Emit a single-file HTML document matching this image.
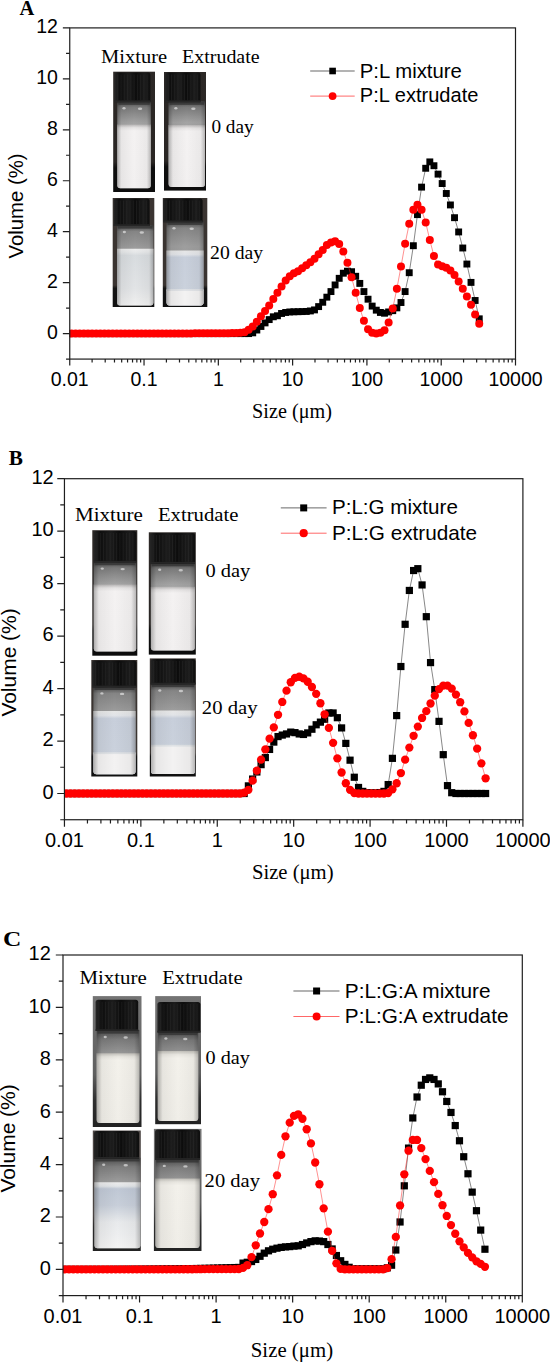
<!DOCTYPE html>
<html><head><meta charset="utf-8"><title>Particle size distribution</title>
<style>html,body{margin:0;padding:0;background:#fff;font-family:"Liberation Sans",sans-serif;}svg{display:block;}text{fill:#000;}</style>
</head><body>
<svg width="550" height="1362" viewBox="0 0 550 1362">
<rect width="550" height="1362" fill="#fff"/>
<defs>
<linearGradient id="gGlass" x1="0" y1="0" x2="0" y2="1">
 <stop offset="0" stop-color="#444"/><stop offset="0.07" stop-color="#7a7a7a"/><stop offset="0.25" stop-color="#a4a4a4"/><stop offset="0.55" stop-color="#959595"/><stop offset="0.9" stop-color="#747474"/><stop offset="1" stop-color="#828282"/></linearGradient>
<linearGradient id="gGlass20" x1="0" y1="0" x2="0" y2="1">
 <stop offset="0" stop-color="#444"/><stop offset="0.08" stop-color="#858585"/><stop offset="0.3" stop-color="#9e9e9e"/><stop offset="0.8" stop-color="#989898"/><stop offset="1" stop-color="#acacac"/></linearGradient>
<linearGradient id="gGlassC" x1="0" y1="0" x2="0" y2="1">
 <stop offset="0" stop-color="#4a4a4a"/><stop offset="0.1" stop-color="#7a7a7a"/><stop offset="0.3" stop-color="#a0a0a0"/><stop offset="0.65" stop-color="#8e8e8e"/><stop offset="0.92" stop-color="#6e6e6e"/><stop offset="1" stop-color="#7a7a7a"/></linearGradient>
<linearGradient id="gGlassC20" x1="0" y1="0" x2="0" y2="1">
 <stop offset="0" stop-color="#4a4a4a"/><stop offset="0.1" stop-color="#7e7e7e"/><stop offset="0.3" stop-color="#a2a2a2"/><stop offset="0.8" stop-color="#9a9a9a"/><stop offset="1" stop-color="#a8a8a8"/></linearGradient>
<linearGradient id="gSide" x1="0" y1="0" x2="1" y2="0">
 <stop offset="0" stop-color="#000" stop-opacity="0.28"/><stop offset="0.12" stop-color="#000" stop-opacity="0.05"/>
 <stop offset="0.5" stop-color="#000" stop-opacity="0"/><stop offset="0.88" stop-color="#000" stop-opacity="0.04"/><stop offset="1" stop-color="#000" stop-opacity="0.25"/></linearGradient>
<linearGradient id="gWhite" x1="0" y1="0" x2="0" y2="1">
 <stop offset="0" stop-color="#b8b6b6"/><stop offset="0.05" stop-color="#e6e4e4"/><stop offset="0.1" stop-color="#f4f2f2"/><stop offset="1" stop-color="#f2f0f0"/></linearGradient>
<linearGradient id="gCream" x1="0" y1="0" x2="0" y2="1">
 <stop offset="0" stop-color="#c2c0ba"/><stop offset="0.05" stop-color="#e8e6e0"/><stop offset="0.1" stop-color="#f3f1eb"/><stop offset="1" stop-color="#f0eee8"/></linearGradient>
<linearGradient id="gGrey" x1="0" y1="0" x2="0" y2="1">
 <stop offset="0" stop-color="#eeeeee"/><stop offset="0.06" stop-color="#e6e8e9"/><stop offset="0.12" stop-color="#d8dcdf"/><stop offset="0.7" stop-color="#e2e4e6"/><stop offset="1" stop-color="#f0f0f0"/></linearGradient>
<linearGradient id="gBlue" x1="0" y1="0" x2="0" y2="1">
 <stop offset="0" stop-color="#e6e6e6"/><stop offset="0.07" stop-color="#e2e4e8"/><stop offset="0.12" stop-color="#c8cfdb"/><stop offset="1" stop-color="#ccd3dd"/></linearGradient>
<linearGradient id="gBlueFade" x1="0" y1="0" x2="0" y2="1">
 <stop offset="0" stop-color="#ececec"/><stop offset="0.06" stop-color="#e2e5e8"/><stop offset="0.1" stop-color="#c0c8d5"/><stop offset="0.35" stop-color="#c8cfda"/><stop offset="0.6" stop-color="#e8eaec"/><stop offset="1" stop-color="#f4f4f4"/></linearGradient>
<linearGradient id="gBgC" x1="0" y1="0" x2="0" y2="1">
 <stop offset="0" stop-color="#747474"/><stop offset="0.6" stop-color="#5e5e5e"/><stop offset="0.8" stop-color="#2e2e2e"/><stop offset="1" stop-color="#222"/></linearGradient>
<linearGradient id="gBgC2" x1="0" y1="0" x2="0" y2="1">
 <stop offset="0" stop-color="#4e4846"/><stop offset="0.7" stop-color="#4a4442"/><stop offset="0.8" stop-color="#2a2a2a"/><stop offset="1" stop-color="#222"/></linearGradient>
<linearGradient id="gBgA" x1="0" y1="0" x2="0" y2="1">
 <stop offset="0" stop-color="#2c2826"/><stop offset="0.75" stop-color="#2a2624"/><stop offset="0.8" stop-color="#0e0e0e"/><stop offset="1" stop-color="#0c0c0c"/></linearGradient>
<linearGradient id="gBg20" x1="0" y1="0" x2="0" y2="1">
 <stop offset="0" stop-color="#3a3431"/><stop offset="0.8" stop-color="#3a3431"/><stop offset="0.83" stop-color="#141414"/><stop offset="1" stop-color="#101010"/></linearGradient>
<linearGradient id="gCap" x1="0" y1="0" x2="1" y2="0">
 <stop offset="0" stop-color="#262626"/><stop offset="0.15" stop-color="#0e0e0e"/><stop offset="0.4" stop-color="#1c1c1c"/><stop offset="0.6" stop-color="#0c0c0c"/><stop offset="0.85" stop-color="#1c1c1c"/><stop offset="1" stop-color="#0e0e0e"/></linearGradient>
</defs>
<rect x="113.2" y="71.7" width="41.8" height="120.3" fill="url(#gBgA)"/><path d="M117.3 101.2H150.8V185.3Q150.8 188.3 147.8 188.3H120.3Q117.3 188.3 117.3 185.3Z" fill="url(#gGlass)"/><path d="M117.3 124.5H150.8V185.3Q150.8 188.3 147.8 188.3H120.3Q117.3 188.3 117.3 185.3Z" fill="url(#gWhite)"/><path d="M117.3 101.2H150.8V185.3Q150.8 188.3 147.8 188.3H120.3Q117.3 188.3 117.3 185.3Z" fill="url(#gSide)"/><rect x="118.3" y="102.2" width="31.5" height="2.6" fill="#333" opacity="0.8"/><ellipse cx="124" cy="108.2" rx="1.6" ry="1.2" fill="#f4f4f4" opacity="0.6"/><ellipse cx="140.08" cy="108.7" rx="2.2" ry="1.2" fill="#f4f4f4" opacity="0.6"/><path d="M114.5 102.2V75Q114.5 72.5 117 72.5H147.9Q150.4 72.5 150.4 75V102.2Z" fill="url(#gCap)"/><path d="M117.76 74.5V100.2M121.03 74.5V100.2M124.29 74.5V100.2M127.55 74.5V100.2M130.82 74.5V100.2M134.08 74.5V100.2M137.35 74.5V100.2M140.61 74.5V100.2M143.87 74.5V100.2M147.14 74.5V100.2" stroke="#333" stroke-width="0.7" opacity="0.55"/><rect x="114.5" y="100.4" width="35.9" height="1.8" fill="#262626"/>
<rect x="164" y="72" width="42" height="118.6" fill="url(#gBgA)"/><path d="M168.6 101.2H205V184Q205 187 202 187H171.6Q168.6 187 168.6 184Z" fill="url(#gGlass)"/><path d="M168.6 125H205V184Q205 187 202 187H171.6Q168.6 187 168.6 184Z" fill="url(#gWhite)"/><path d="M168.6 101.2H205V184Q205 187 202 187H171.6Q168.6 187 168.6 184Z" fill="url(#gSide)"/><rect x="169.6" y="102.2" width="34.4" height="2.6" fill="#333" opacity="0.8"/><ellipse cx="175.88" cy="108.2" rx="1.6" ry="1.2" fill="#f4f4f4" opacity="0.6"/><ellipse cx="193.35" cy="108.7" rx="2.2" ry="1.2" fill="#f4f4f4" opacity="0.6"/><path d="M165 102.2V75Q165 72.5 167.5 72.5H198Q200.5 72.5 200.5 75V102.2Z" fill="url(#gCap)"/><path d="M168.23 74.5V100.2M171.45 74.5V100.2M174.68 74.5V100.2M177.91 74.5V100.2M181.14 74.5V100.2M184.36 74.5V100.2M187.59 74.5V100.2M190.82 74.5V100.2M194.05 74.5V100.2M197.27 74.5V100.2" stroke="#333" stroke-width="0.7" opacity="0.55"/><rect x="165" y="100.4" width="35.5" height="1.8" fill="#262626"/>
<rect x="112.7" y="198" width="41.6" height="109" fill="url(#gBg20)"/><path d="M117.1 225H153.4V302.5Q153.4 305.5 150.4 305.5H120.1Q117.1 305.5 117.1 302.5Z" fill="url(#gGlass20)"/><path d="M117.1 248.7H153.4V302.5Q153.4 305.5 150.4 305.5H120.1Q117.1 305.5 117.1 302.5Z" fill="url(#gGrey)"/><path d="M117.1 225H153.4V302.5Q153.4 305.5 150.4 305.5H120.1Q117.1 305.5 117.1 302.5Z" fill="url(#gSide)"/><rect x="118.1" y="226" width="34.3" height="2.6" fill="#333" opacity="0.8"/><ellipse cx="124.36" cy="232" rx="1.6" ry="1.2" fill="#f4f4f4" opacity="0.6"/><ellipse cx="141.78" cy="232.5" rx="2.2" ry="1.2" fill="#f4f4f4" opacity="0.6"/><path d="M113.7 226V201Q113.7 198.5 116.2 198.5H147.1Q149.6 198.5 149.6 201V226Z" fill="url(#gCap)"/><path d="M116.96 200.5V224M120.23 200.5V224M123.49 200.5V224M126.75 200.5V224M130.02 200.5V224M133.28 200.5V224M136.55 200.5V224M139.81 200.5V224M143.07 200.5V224M146.34 200.5V224" stroke="#333" stroke-width="0.7" opacity="0.55"/><rect x="113.7" y="224.2" width="35.9" height="1.8" fill="#262626"/>
<rect x="162.8" y="198" width="44.5" height="109" fill="url(#gBg20)"/><path d="M166.6 221.3H203.5V302.5Q203.5 305.5 200.5 305.5H169.6Q166.6 305.5 166.6 302.5Z" fill="url(#gGlass20)"/><path d="M166.6 250.6H203.5V302.5Q203.5 305.5 200.5 305.5H169.6Q166.6 305.5 166.6 302.5Z" fill="url(#gBlue)"/><path d="M166.6 290.3H203.5V302.5Q203.5 305.5 200.5 305.5H169.6Q166.6 305.5 166.6 302.5Z" fill="#f3f2f2"/><rect x="166.6" y="289.1" width="36.9" height="1.8" fill="#e0e3e6"/><path d="M166.6 221.3H203.5V302.5Q203.5 305.5 200.5 305.5H169.6Q166.6 305.5 166.6 302.5Z" fill="url(#gSide)"/><rect x="167.6" y="222.3" width="34.9" height="2.6" fill="#333" opacity="0.8"/><ellipse cx="173.98" cy="228.3" rx="1.6" ry="1.2" fill="#f4f4f4" opacity="0.6"/><ellipse cx="191.69" cy="228.8" rx="2.2" ry="1.2" fill="#f4f4f4" opacity="0.6"/><path d="M163 222.3V201Q163 198.5 165.5 198.5H200.1Q202.6 198.5 202.6 201V222.3Z" fill="url(#gCap)"/><path d="M166.3 200.5V220.3M169.6 200.5V220.3M172.9 200.5V220.3M176.2 200.5V220.3M179.5 200.5V220.3M182.8 200.5V220.3M186.1 200.5V220.3M189.4 200.5V220.3M192.7 200.5V220.3M196 200.5V220.3M199.3 200.5V220.3" stroke="#333" stroke-width="0.7" opacity="0.55"/><rect x="163" y="220.5" width="39.6" height="1.8" fill="#262626"/>
<rect x="92.3" y="530.2" width="45" height="125.5" fill="url(#gBgA)"/><path d="M93.8 561.6H136.2V648.5Q136.2 651.5 133.2 651.5H96.8Q93.8 651.5 93.8 648.5Z" fill="url(#gGlass)"/><path d="M93.8 584.6H136.2V648.5Q136.2 651.5 133.2 651.5H96.8Q93.8 651.5 93.8 648.5Z" fill="url(#gWhite)"/><path d="M93.8 561.6H136.2V648.5Q136.2 651.5 133.2 651.5H96.8Q93.8 651.5 93.8 648.5Z" fill="url(#gSide)"/><rect x="94.8" y="562.6" width="40.4" height="2.6" fill="#333" opacity="0.8"/><ellipse cx="102.28" cy="568.6" rx="1.6" ry="1.2" fill="#f4f4f4" opacity="0.6"/><ellipse cx="122.63" cy="569.1" rx="2.2" ry="1.2" fill="#f4f4f4" opacity="0.6"/><path d="M93.8 562.6V533.5Q93.8 531 96.3 531H133.7Q136.2 531 136.2 533.5V562.6Z" fill="url(#gCap)"/><path d="M97.06 533V560.6M100.32 533V560.6M103.58 533V560.6M106.85 533V560.6M110.11 533V560.6M113.37 533V560.6M116.63 533V560.6M119.89 533V560.6M123.15 533V560.6M126.42 533V560.6M129.68 533V560.6M132.94 533V560.6" stroke="#333" stroke-width="0.7" opacity="0.55"/><rect x="93.8" y="560.8" width="42.4" height="1.8" fill="#262626"/>
<rect x="148.8" y="532.3" width="47" height="122.3" fill="url(#gBgA)"/><path d="M150.9 562.7H194.8V647.4Q194.8 650.4 191.8 650.4H153.9Q150.9 650.4 150.9 647.4Z" fill="url(#gGlass)"/><path d="M150.9 586.7H194.8V647.4Q194.8 650.4 191.8 650.4H153.9Q150.9 650.4 150.9 647.4Z" fill="url(#gWhite)"/><path d="M150.9 562.7H194.8V647.4Q194.8 650.4 191.8 650.4H153.9Q150.9 650.4 150.9 647.4Z" fill="url(#gSide)"/><rect x="151.9" y="563.7" width="41.9" height="2.6" fill="#333" opacity="0.8"/><ellipse cx="159.68" cy="569.7" rx="1.6" ry="1.2" fill="#f4f4f4" opacity="0.6"/><ellipse cx="180.75" cy="570.2" rx="2.2" ry="1.2" fill="#f4f4f4" opacity="0.6"/><path d="M150 563.7V535.5Q150 533 152.5 533H192.5Q195 533 195 535.5V563.7Z" fill="url(#gCap)"/><path d="M153.21 535V561.7M156.43 535V561.7M159.64 535V561.7M162.86 535V561.7M166.07 535V561.7M169.29 535V561.7M172.5 535V561.7M175.71 535V561.7M178.93 535V561.7M182.14 535V561.7M185.36 535V561.7M188.57 535V561.7M191.79 535V561.7" stroke="#333" stroke-width="0.7" opacity="0.55"/><rect x="150" y="561.9" width="45" height="1.8" fill="#262626"/>
<rect x="91.3" y="660" width="46" height="116.5" fill="url(#gBg20)"/><path d="M93.5 686.4H135.5V771.2Q135.5 774.2 132.5 774.2H96.5Q93.5 774.2 93.5 771.2Z" fill="url(#gGlass20)"/><path d="M93.5 711H135.5V771.2Q135.5 774.2 132.5 774.2H96.5Q93.5 774.2 93.5 771.2Z" fill="url(#gBlue)"/><path d="M93.5 753.5H135.5V771.2Q135.5 774.2 132.5 774.2H96.5Q93.5 774.2 93.5 771.2Z" fill="#f3f2f2"/><rect x="93.5" y="752.3" width="42" height="1.8" fill="#e0e3e6"/><path d="M93.5 686.4H135.5V771.2Q135.5 774.2 132.5 774.2H96.5Q93.5 774.2 93.5 771.2Z" fill="url(#gSide)"/><rect x="94.5" y="687.4" width="40" height="2.6" fill="#333" opacity="0.8"/><ellipse cx="101.9" cy="693.4" rx="1.6" ry="1.2" fill="#f4f4f4" opacity="0.6"/><ellipse cx="122.06" cy="693.9" rx="2.2" ry="1.2" fill="#f4f4f4" opacity="0.6"/><path d="M92 687.4V663Q92 660.5 94.5 660.5H134Q136.5 660.5 136.5 663V687.4Z" fill="url(#gCap)"/><path d="M95.42 662.5V685.4M98.85 662.5V685.4M102.27 662.5V685.4M105.69 662.5V685.4M109.12 662.5V685.4M112.54 662.5V685.4M115.96 662.5V685.4M119.38 662.5V685.4M122.81 662.5V685.4M126.23 662.5V685.4M129.65 662.5V685.4M133.08 662.5V685.4" stroke="#333" stroke-width="0.7" opacity="0.55"/><rect x="92" y="685.6" width="44.5" height="1.8" fill="#262626"/>
<rect x="149.8" y="658.4" width="46" height="118.1" fill="url(#gBg20)"/><path d="M151 683.5H195V771Q195 774 192 774H154Q151 774 151 771Z" fill="url(#gGlass20)"/><path d="M151 710.6H195V771Q195 774 192 774H154Q151 774 151 771Z" fill="url(#gBlue)"/><path d="M151 746H195V771Q195 774 192 774H154Q151 774 151 771Z" fill="#f3f2f2"/><rect x="151" y="744.8" width="44" height="1.8" fill="#e0e3e6"/><path d="M151 683.5H195V771Q195 774 192 774H154Q151 774 151 771Z" fill="url(#gSide)"/><rect x="152" y="684.5" width="42" height="2.6" fill="#333" opacity="0.8"/><ellipse cx="159.8" cy="690.5" rx="1.6" ry="1.2" fill="#f4f4f4" opacity="0.6"/><ellipse cx="180.92" cy="691" rx="2.2" ry="1.2" fill="#f4f4f4" opacity="0.6"/><path d="M150.5 684.5V661.5Q150.5 659 153 659H193Q195.5 659 195.5 661.5V684.5Z" fill="url(#gCap)"/><path d="M153.71 661V682.5M156.93 661V682.5M160.14 661V682.5M163.36 661V682.5M166.57 661V682.5M169.79 661V682.5M173 661V682.5M176.21 661V682.5M179.43 661V682.5M182.64 661V682.5M185.86 661V682.5M189.07 661V682.5M192.29 661V682.5" stroke="#333" stroke-width="0.7" opacity="0.55"/><rect x="150.5" y="682.7" width="45" height="1.8" fill="#262626"/>
<rect x="92.8" y="996.1" width="48.7" height="130.9" fill="url(#gBgC)"/><path d="M96.7 1030H139.3V1120.1Q139.3 1123.1 136.3 1123.1H99.7Q96.7 1123.1 96.7 1120.1Z" fill="url(#gGlassC)"/><path d="M96.7 1053.3H139.3V1120.1Q139.3 1123.1 136.3 1123.1H99.7Q96.7 1123.1 96.7 1120.1Z" fill="url(#gCream)"/><path d="M96.7 1030H139.3V1120.1Q139.3 1123.1 136.3 1123.1H99.7Q96.7 1123.1 96.7 1120.1Z" fill="url(#gSide)"/><rect x="97.7" y="1031" width="40.6" height="2.6" fill="#333" opacity="0.8"/><ellipse cx="105.22" cy="1037" rx="1.6" ry="1.2" fill="#f4f4f4" opacity="0.6"/><ellipse cx="125.67" cy="1037.5" rx="2.2" ry="1.2" fill="#f4f4f4" opacity="0.6"/><path d="M95.6 1031V1002.3Q95.6 999.8 98.1 999.8H135.7Q138.2 999.8 138.2 1002.3V1031Z" fill="url(#gCap)"/><path d="M98.88 1001.8V1029M102.15 1001.8V1029M105.43 1001.8V1029M108.71 1001.8V1029M111.98 1001.8V1029M115.26 1001.8V1029M118.54 1001.8V1029M121.82 1001.8V1029M125.09 1001.8V1029M128.37 1001.8V1029M131.65 1001.8V1029M134.92 1001.8V1029" stroke="#333" stroke-width="0.7" opacity="0.55"/><rect x="95.6" y="1029.2" width="42.6" height="1.8" fill="#262626"/>
<rect x="155.2" y="996.1" width="45.8" height="128.1" fill="url(#gBgC)"/><path d="M157.8 1031.5H198.2V1117.9Q198.2 1120.9 195.2 1120.9H160.8Q157.8 1120.9 157.8 1117.9Z" fill="url(#gGlassC)"/><path d="M157.8 1051.1H198.2V1117.9Q198.2 1120.9 195.2 1120.9H160.8Q157.8 1120.9 157.8 1117.9Z" fill="url(#gCream)"/><path d="M157.8 1031.5H198.2V1117.9Q198.2 1120.9 195.2 1120.9H160.8Q157.8 1120.9 157.8 1117.9Z" fill="url(#gSide)"/><rect x="158.8" y="1032.5" width="38.4" height="2.6" fill="#333" opacity="0.8"/><ellipse cx="165.88" cy="1038.5" rx="1.6" ry="1.2" fill="#f4f4f4" opacity="0.6"/><ellipse cx="185.27" cy="1039" rx="2.2" ry="1.2" fill="#f4f4f4" opacity="0.6"/><path d="M157.4 1032.5V1004.5Q157.4 1002 159.9 1002H197.9Q200.4 1002 200.4 1004.5V1032.5Z" fill="url(#gCap)"/><path d="M160.71 1004V1030.5M164.02 1004V1030.5M167.32 1004V1030.5M170.63 1004V1030.5M173.94 1004V1030.5M177.25 1004V1030.5M180.55 1004V1030.5M183.86 1004V1030.5M187.17 1004V1030.5M190.48 1004V1030.5M193.78 1004V1030.5M197.09 1004V1030.5" stroke="#333" stroke-width="0.7" opacity="0.55"/><rect x="157.4" y="1030.7" width="43" height="1.8" fill="#262626"/>
<rect x="92.8" y="1130.5" width="48" height="120.5" fill="url(#gBgC2)"/><path d="M94.5 1157.8H140.4V1245.3Q140.4 1248.3 137.4 1248.3H97.5Q94.5 1248.3 94.5 1245.3Z" fill="url(#gGlassC20)"/><path d="M94.5 1182.2H140.4V1245.3Q140.4 1248.3 137.4 1248.3H97.5Q94.5 1248.3 94.5 1245.3Z" fill="url(#gBlueFade)"/><path d="M94.5 1157.8H140.4V1245.3Q140.4 1248.3 137.4 1248.3H97.5Q94.5 1248.3 94.5 1245.3Z" fill="url(#gSide)"/><rect x="95.5" y="1158.8" width="43.9" height="2.6" fill="#333" opacity="0.8"/><ellipse cx="103.68" cy="1164.8" rx="1.6" ry="1.2" fill="#f4f4f4" opacity="0.6"/><ellipse cx="125.71" cy="1165.3" rx="2.2" ry="1.2" fill="#f4f4f4" opacity="0.6"/><path d="M94 1158.8V1133.5Q94 1131 96.5 1131H136.5Q139 1131 139 1133.5V1158.8Z" fill="url(#gCap)"/><path d="M97.21 1133V1156.8M100.43 1133V1156.8M103.64 1133V1156.8M106.86 1133V1156.8M110.07 1133V1156.8M113.29 1133V1156.8M116.5 1133V1156.8M119.71 1133V1156.8M122.93 1133V1156.8M126.14 1133V1156.8M129.36 1133V1156.8M132.57 1133V1156.8M135.79 1133V1156.8" stroke="#333" stroke-width="0.7" opacity="0.55"/><rect x="94" y="1157" width="45" height="1.8" fill="#262626"/>
<rect x="153.9" y="1128.9" width="47.6" height="122.1" fill="url(#gBgC)"/><path d="M155.5 1158.9H199.5V1245Q199.5 1248 196.5 1248H158.5Q155.5 1248 155.5 1245Z" fill="url(#gGlassC20)"/><path d="M155.5 1178.5H199.5V1245Q199.5 1248 196.5 1248H158.5Q155.5 1248 155.5 1245Z" fill="url(#gCream)"/><path d="M155.5 1158.9H199.5V1245Q199.5 1248 196.5 1248H158.5Q155.5 1248 155.5 1245Z" fill="url(#gSide)"/><rect x="156.5" y="1159.9" width="42" height="2.6" fill="#333" opacity="0.8"/><ellipse cx="164.3" cy="1165.9" rx="1.6" ry="1.2" fill="#f4f4f4" opacity="0.6"/><ellipse cx="185.42" cy="1166.4" rx="2.2" ry="1.2" fill="#f4f4f4" opacity="0.6"/><path d="M155 1159.9V1132Q155 1129.5 157.5 1129.5H197.5Q200 1129.5 200 1132V1159.9Z" fill="url(#gCap)"/><path d="M158.21 1131.5V1157.9M161.43 1131.5V1157.9M164.64 1131.5V1157.9M167.86 1131.5V1157.9M171.07 1131.5V1157.9M174.29 1131.5V1157.9M177.5 1131.5V1157.9M180.71 1131.5V1157.9M183.93 1131.5V1157.9M187.14 1131.5V1157.9M190.36 1131.5V1157.9M193.57 1131.5V1157.9M196.79 1131.5V1157.9" stroke="#333" stroke-width="0.7" opacity="0.55"/><rect x="155" y="1158.1" width="45" height="1.8" fill="#262626"/>
<clipPath id="clipA"><rect x="69.75" y="27.9" width="445.75" height="331.18"/></clipPath>
<g clip-path="url(#clipA)">
<polyline fill="none" stroke="#222" stroke-width="0.55" points="67.37,333.6 71.49,333.6 75.61,333.6 79.73,333.6 83.85,333.6 87.97,333.6 92.09,333.6 96.2,333.6 100.32,333.6 104.44,333.6 108.56,333.6 112.68,333.6 116.8,333.6 120.92,333.6 125.03,333.6 129.15,333.6 133.27,333.6 137.39,333.6 141.51,333.6 145.63,333.6 149.75,333.6 153.87,333.6 157.98,333.6 162.1,333.6 166.22,333.6 170.34,333.6 174.46,333.6 178.58,333.6 182.7,333.6 186.82,333.6 190.93,333.6 195.05,333.6 199.17,333.6 203.29,333.6 207.41,333.6 211.53,333.6 215.65,333.6 219.77,333.6 223.88,333.6 228,333.6 232.12,333.6 236.24,333.6 240.36,333.6 244.48,333.6 248.6,333.6 252.72,332.84 256.83,330.03 260.95,326.47 265.07,322.9 269.19,319.59 273.31,316.79 277.43,315.77 281.55,313.47 285.67,312.46 289.78,311.95 293.9,311.8 298.02,311.69 302.14,311.59 306.26,311.44 310.38,310.95 314.5,309.91 318.62,306.6 322.73,302.27 326.85,297.17 330.97,291.57 335.09,284.94 339.21,278.32 343.33,273.22 347.45,271.19 351.57,271.7 355.68,276.28 359.8,283.41 363.92,291.57 368.04,299.21 372.16,306.09 376.28,310.16 380.4,312.46 384.51,313.22 388.63,311.95 392.75,310.67 396.87,307.87 400.99,302.52 405.11,291.57 409.23,272.71 413.35,245.71 417.46,214.63 421.58,187.12 425.7,168.27 429.82,161.9 433.94,165.72 438.06,174.13 442.18,183.55 446.3,193.49 450.41,204.95 454.53,217.69 458.65,231.95 462.77,248 466.89,264.05 471.01,282.4 475.13,300.48 479.25,318.82"/>
<g fill="#000"><rect x="63.92" y="330.15" width="6.9" height="6.9"/><rect x="68.04" y="330.15" width="6.9" height="6.9"/><rect x="72.16" y="330.15" width="6.9" height="6.9"/><rect x="76.28" y="330.15" width="6.9" height="6.9"/><rect x="80.4" y="330.15" width="6.9" height="6.9"/><rect x="84.52" y="330.15" width="6.9" height="6.9"/><rect x="88.64" y="330.15" width="6.9" height="6.9"/><rect x="92.75" y="330.15" width="6.9" height="6.9"/><rect x="96.87" y="330.15" width="6.9" height="6.9"/><rect x="100.99" y="330.15" width="6.9" height="6.9"/><rect x="105.11" y="330.15" width="6.9" height="6.9"/><rect x="109.23" y="330.15" width="6.9" height="6.9"/><rect x="113.35" y="330.15" width="6.9" height="6.9"/><rect x="117.47" y="330.15" width="6.9" height="6.9"/><rect x="121.58" y="330.15" width="6.9" height="6.9"/><rect x="125.7" y="330.15" width="6.9" height="6.9"/><rect x="129.82" y="330.15" width="6.9" height="6.9"/><rect x="133.94" y="330.15" width="6.9" height="6.9"/><rect x="138.06" y="330.15" width="6.9" height="6.9"/><rect x="142.18" y="330.15" width="6.9" height="6.9"/><rect x="146.3" y="330.15" width="6.9" height="6.9"/><rect x="150.42" y="330.15" width="6.9" height="6.9"/><rect x="154.53" y="330.15" width="6.9" height="6.9"/><rect x="158.65" y="330.15" width="6.9" height="6.9"/><rect x="162.77" y="330.15" width="6.9" height="6.9"/><rect x="166.89" y="330.15" width="6.9" height="6.9"/><rect x="171.01" y="330.15" width="6.9" height="6.9"/><rect x="175.13" y="330.15" width="6.9" height="6.9"/><rect x="179.25" y="330.15" width="6.9" height="6.9"/><rect x="183.37" y="330.15" width="6.9" height="6.9"/><rect x="187.48" y="330.15" width="6.9" height="6.9"/><rect x="191.6" y="330.15" width="6.9" height="6.9"/><rect x="195.72" y="330.15" width="6.9" height="6.9"/><rect x="199.84" y="330.15" width="6.9" height="6.9"/><rect x="203.96" y="330.15" width="6.9" height="6.9"/><rect x="208.08" y="330.15" width="6.9" height="6.9"/><rect x="212.2" y="330.15" width="6.9" height="6.9"/><rect x="216.32" y="330.15" width="6.9" height="6.9"/><rect x="220.43" y="330.15" width="6.9" height="6.9"/><rect x="224.55" y="330.15" width="6.9" height="6.9"/><rect x="228.67" y="330.15" width="6.9" height="6.9"/><rect x="232.79" y="330.15" width="6.9" height="6.9"/><rect x="236.91" y="330.15" width="6.9" height="6.9"/><rect x="241.03" y="330.15" width="6.9" height="6.9"/><rect x="245.15" y="330.15" width="6.9" height="6.9"/><rect x="249.27" y="329.39" width="6.9" height="6.9"/><rect x="253.38" y="326.58" width="6.9" height="6.9"/><rect x="257.5" y="323.02" width="6.9" height="6.9"/><rect x="261.62" y="319.45" width="6.9" height="6.9"/><rect x="265.74" y="316.14" width="6.9" height="6.9"/><rect x="269.86" y="313.34" width="6.9" height="6.9"/><rect x="273.98" y="312.32" width="6.9" height="6.9"/><rect x="278.1" y="310.02" width="6.9" height="6.9"/><rect x="282.22" y="309.01" width="6.9" height="6.9"/><rect x="286.33" y="308.5" width="6.9" height="6.9"/><rect x="290.45" y="308.35" width="6.9" height="6.9"/><rect x="294.57" y="308.24" width="6.9" height="6.9"/><rect x="298.69" y="308.14" width="6.9" height="6.9"/><rect x="302.81" y="307.99" width="6.9" height="6.9"/><rect x="306.93" y="307.5" width="6.9" height="6.9"/><rect x="311.05" y="306.46" width="6.9" height="6.9"/><rect x="315.17" y="303.15" width="6.9" height="6.9"/><rect x="319.28" y="298.82" width="6.9" height="6.9"/><rect x="323.4" y="293.72" width="6.9" height="6.9"/><rect x="327.52" y="288.12" width="6.9" height="6.9"/><rect x="331.64" y="281.49" width="6.9" height="6.9"/><rect x="335.76" y="274.87" width="6.9" height="6.9"/><rect x="339.88" y="269.77" width="6.9" height="6.9"/><rect x="344" y="267.74" width="6.9" height="6.9"/><rect x="348.12" y="268.25" width="6.9" height="6.9"/><rect x="352.23" y="272.83" width="6.9" height="6.9"/><rect x="356.35" y="279.96" width="6.9" height="6.9"/><rect x="360.47" y="288.12" width="6.9" height="6.9"/><rect x="364.59" y="295.76" width="6.9" height="6.9"/><rect x="368.71" y="302.64" width="6.9" height="6.9"/><rect x="372.83" y="306.71" width="6.9" height="6.9"/><rect x="376.95" y="309.01" width="6.9" height="6.9"/><rect x="381.06" y="309.77" width="6.9" height="6.9"/><rect x="385.18" y="308.5" width="6.9" height="6.9"/><rect x="389.3" y="307.22" width="6.9" height="6.9"/><rect x="393.42" y="304.42" width="6.9" height="6.9"/><rect x="397.54" y="299.07" width="6.9" height="6.9"/><rect x="401.66" y="288.12" width="6.9" height="6.9"/><rect x="405.78" y="269.26" width="6.9" height="6.9"/><rect x="409.9" y="242.26" width="6.9" height="6.9"/><rect x="414.01" y="211.18" width="6.9" height="6.9"/><rect x="418.13" y="183.67" width="6.9" height="6.9"/><rect x="422.25" y="164.82" width="6.9" height="6.9"/><rect x="426.37" y="158.45" width="6.9" height="6.9"/><rect x="430.49" y="162.27" width="6.9" height="6.9"/><rect x="434.61" y="170.68" width="6.9" height="6.9"/><rect x="438.73" y="180.1" width="6.9" height="6.9"/><rect x="442.85" y="190.04" width="6.9" height="6.9"/><rect x="446.96" y="201.5" width="6.9" height="6.9"/><rect x="451.08" y="214.24" width="6.9" height="6.9"/><rect x="455.2" y="228.5" width="6.9" height="6.9"/><rect x="459.32" y="244.55" width="6.9" height="6.9"/><rect x="463.44" y="260.6" width="6.9" height="6.9"/><rect x="467.56" y="278.95" width="6.9" height="6.9"/><rect x="471.68" y="297.03" width="6.9" height="6.9"/><rect x="475.8" y="315.37" width="6.9" height="6.9"/></g>
<polyline fill="none" stroke="#f22" stroke-width="0.5" points="67.37,333.6 71.49,333.6 75.61,333.6 79.73,333.6 83.85,333.6 87.97,333.6 92.09,333.6 96.2,333.6 100.32,333.59 104.44,333.59 108.56,333.59 112.68,333.58 116.8,333.58 120.92,333.58 125.03,333.57 129.15,333.56 133.27,333.56 137.39,333.55 141.51,333.54 145.63,333.53 149.75,333.53 153.87,333.52 157.98,333.5 162.1,333.49 166.22,333.48 170.34,333.47 174.46,333.45 178.58,333.44 182.7,333.42 186.82,333.4 190.93,333.38 195.05,333.36 199.17,333.34 203.29,333.32 207.41,333.29 211.53,333.27 215.65,333.24 219.77,333.21 223.88,333.19 228,333.16 232.12,333.12 236.24,333.09 240.36,332.84 244.48,332.33 248.6,329.78 252.72,326.47 256.83,321.63 260.95,316.28 265.07,310.93 269.19,305.58 273.31,298.95 277.43,292.84 281.55,286.47 285.67,280.61 289.78,276.28 293.9,273.22 298.02,271.19 302.14,268.13 306.26,265.33 310.38,262.27 314.5,258.7 318.62,254.37 322.73,250.04 326.85,244.95 330.97,242.4 335.09,241.13 339.21,243.93 343.33,251.57 347.45,262.78 351.57,277.3 355.68,292.84 359.8,308.12 363.92,320.86 368.04,329.27 372.16,332.84 376.28,333.6 380.4,332.84 384.51,330.29 388.63,322.39 392.75,308.38 396.87,288.76 400.99,266.6 405.11,243.67 409.23,223.8 413.35,209.79 417.46,204.7 421.58,209.79 425.7,222.53 429.82,240.11 433.94,255.9 438.06,264.56 442.18,266.35 446.3,267.87 450.41,270.42 454.53,275.01 458.65,281.38 462.77,288.76 466.89,296.41 471.01,304.81 475.13,314.49 479.25,323.66"/>
<g fill="#f00"><circle cx="67.37" cy="333.6" r="4"/><circle cx="71.49" cy="333.6" r="4"/><circle cx="75.61" cy="333.6" r="4"/><circle cx="79.73" cy="333.6" r="4"/><circle cx="83.85" cy="333.6" r="4"/><circle cx="87.97" cy="333.6" r="4"/><circle cx="92.09" cy="333.6" r="4"/><circle cx="96.2" cy="333.6" r="4"/><circle cx="100.32" cy="333.59" r="4"/><circle cx="104.44" cy="333.59" r="4"/><circle cx="108.56" cy="333.59" r="4"/><circle cx="112.68" cy="333.58" r="4"/><circle cx="116.8" cy="333.58" r="4"/><circle cx="120.92" cy="333.58" r="4"/><circle cx="125.03" cy="333.57" r="4"/><circle cx="129.15" cy="333.56" r="4"/><circle cx="133.27" cy="333.56" r="4"/><circle cx="137.39" cy="333.55" r="4"/><circle cx="141.51" cy="333.54" r="4"/><circle cx="145.63" cy="333.53" r="4"/><circle cx="149.75" cy="333.53" r="4"/><circle cx="153.87" cy="333.52" r="4"/><circle cx="157.98" cy="333.5" r="4"/><circle cx="162.1" cy="333.49" r="4"/><circle cx="166.22" cy="333.48" r="4"/><circle cx="170.34" cy="333.47" r="4"/><circle cx="174.46" cy="333.45" r="4"/><circle cx="178.58" cy="333.44" r="4"/><circle cx="182.7" cy="333.42" r="4"/><circle cx="186.82" cy="333.4" r="4"/><circle cx="190.93" cy="333.38" r="4"/><circle cx="195.05" cy="333.36" r="4"/><circle cx="199.17" cy="333.34" r="4"/><circle cx="203.29" cy="333.32" r="4"/><circle cx="207.41" cy="333.29" r="4"/><circle cx="211.53" cy="333.27" r="4"/><circle cx="215.65" cy="333.24" r="4"/><circle cx="219.77" cy="333.21" r="4"/><circle cx="223.88" cy="333.19" r="4"/><circle cx="228" cy="333.16" r="4"/><circle cx="232.12" cy="333.12" r="4"/><circle cx="236.24" cy="333.09" r="4"/><circle cx="240.36" cy="332.84" r="4"/><circle cx="244.48" cy="332.33" r="4"/><circle cx="248.6" cy="329.78" r="4"/><circle cx="252.72" cy="326.47" r="4"/><circle cx="256.83" cy="321.63" r="4"/><circle cx="260.95" cy="316.28" r="4"/><circle cx="265.07" cy="310.93" r="4"/><circle cx="269.19" cy="305.58" r="4"/><circle cx="273.31" cy="298.95" r="4"/><circle cx="277.43" cy="292.84" r="4"/><circle cx="281.55" cy="286.47" r="4"/><circle cx="285.67" cy="280.61" r="4"/><circle cx="289.78" cy="276.28" r="4"/><circle cx="293.9" cy="273.22" r="4"/><circle cx="298.02" cy="271.19" r="4"/><circle cx="302.14" cy="268.13" r="4"/><circle cx="306.26" cy="265.33" r="4"/><circle cx="310.38" cy="262.27" r="4"/><circle cx="314.5" cy="258.7" r="4"/><circle cx="318.62" cy="254.37" r="4"/><circle cx="322.73" cy="250.04" r="4"/><circle cx="326.85" cy="244.95" r="4"/><circle cx="330.97" cy="242.4" r="4"/><circle cx="335.09" cy="241.13" r="4"/><circle cx="339.21" cy="243.93" r="4"/><circle cx="343.33" cy="251.57" r="4"/><circle cx="347.45" cy="262.78" r="4"/><circle cx="351.57" cy="277.3" r="4"/><circle cx="355.68" cy="292.84" r="4"/><circle cx="359.8" cy="308.12" r="4"/><circle cx="363.92" cy="320.86" r="4"/><circle cx="368.04" cy="329.27" r="4"/><circle cx="372.16" cy="332.84" r="4"/><circle cx="376.28" cy="333.6" r="4"/><circle cx="380.4" cy="332.84" r="4"/><circle cx="384.51" cy="330.29" r="4"/><circle cx="388.63" cy="322.39" r="4"/><circle cx="392.75" cy="308.38" r="4"/><circle cx="396.87" cy="288.76" r="4"/><circle cx="400.99" cy="266.6" r="4"/><circle cx="405.11" cy="243.67" r="4"/><circle cx="409.23" cy="223.8" r="4"/><circle cx="413.35" cy="209.79" r="4"/><circle cx="417.46" cy="204.7" r="4"/><circle cx="421.58" cy="209.79" r="4"/><circle cx="425.7" cy="222.53" r="4"/><circle cx="429.82" cy="240.11" r="4"/><circle cx="433.94" cy="255.9" r="4"/><circle cx="438.06" cy="264.56" r="4"/><circle cx="442.18" cy="266.35" r="4"/><circle cx="446.3" cy="267.87" r="4"/><circle cx="450.41" cy="270.42" r="4"/><circle cx="454.53" cy="275.01" r="4"/><circle cx="458.65" cy="281.38" r="4"/><circle cx="462.77" cy="288.76" r="4"/><circle cx="466.89" cy="296.41" r="4"/><circle cx="471.01" cy="304.81" r="4"/><circle cx="475.13" cy="314.49" r="4"/><circle cx="479.25" cy="323.66" r="4"/></g>
</g>
<rect x="69.75" y="27.9" width="445.75" height="331.18" fill="none" stroke="#1e1e1e" stroke-width="1.2"/>
<path d="M69.75 359.08h-3.7M69.75 333.6h-6.9M69.75 308.12h-3.7M69.75 282.65h-6.9M69.75 257.18h-3.7M69.75 231.7h-6.9M69.75 206.22h-3.7M69.75 180.75h-6.9M69.75 155.27h-3.7M69.75 129.8h-6.9M69.75 104.32h-3.7M69.75 78.85h-6.9M69.75 53.37h-3.7M69.75 27.9h-6.9M69.75 359.08v6.4M92.11 359.08v3.3M105.2 359.08v3.3M114.48 359.08v3.3M121.68 359.08v3.3M127.56 359.08v3.3M132.53 359.08v3.3M136.84 359.08v3.3M140.64 359.08v3.3M144.04 359.08v6.4M166.41 359.08v3.3M179.49 359.08v3.3M188.77 359.08v3.3M195.97 359.08v3.3M201.85 359.08v3.3M206.83 359.08v3.3M211.13 359.08v3.3M214.93 359.08v3.3M218.33 359.08v6.4M240.7 359.08v3.3M253.78 359.08v3.3M263.06 359.08v3.3M270.26 359.08v3.3M276.14 359.08v3.3M281.12 359.08v3.3M285.43 359.08v3.3M289.23 359.08v3.3M292.62 359.08v6.4M314.99 359.08v3.3M328.07 359.08v3.3M337.35 359.08v3.3M344.55 359.08v3.3M350.44 359.08v3.3M355.41 359.08v3.3M359.72 359.08v3.3M363.52 359.08v3.3M366.92 359.08v6.4M389.28 359.08v3.3M402.36 359.08v3.3M411.64 359.08v3.3M418.84 359.08v3.3M424.73 359.08v3.3M429.7 359.08v3.3M434.01 359.08v3.3M437.81 359.08v3.3M441.21 359.08v6.4M463.57 359.08v3.3M476.65 359.08v3.3M485.94 359.08v3.3M493.14 359.08v3.3M499.02 359.08v3.3M503.99 359.08v3.3M508.3 359.08v3.3M512.1 359.08v3.3M515.5 359.08v6.4" stroke="#1e1e1e" stroke-width="1.2" fill="none"/>
<text x="57.85" y="338.9" text-anchor="end" font-family="Liberation Sans, sans-serif" font-size="19.5">0</text>
<text x="57.85" y="287.95" text-anchor="end" font-family="Liberation Sans, sans-serif" font-size="19.5">2</text>
<text x="57.85" y="237" text-anchor="end" font-family="Liberation Sans, sans-serif" font-size="19.5">4</text>
<text x="57.85" y="186.05" text-anchor="end" font-family="Liberation Sans, sans-serif" font-size="19.5">6</text>
<text x="57.85" y="135.1" text-anchor="end" font-family="Liberation Sans, sans-serif" font-size="19.5">8</text>
<text x="57.85" y="84.15" text-anchor="end" font-family="Liberation Sans, sans-serif" font-size="19.5">10</text>
<text x="57.85" y="33.2" text-anchor="end" font-family="Liberation Sans, sans-serif" font-size="19.5">12</text>
<text x="69.75" y="385.7" text-anchor="middle" font-family="Liberation Sans, sans-serif" font-size="19.5">0.01</text>
<text x="144.04" y="385.7" text-anchor="middle" font-family="Liberation Sans, sans-serif" font-size="19.5">0.1</text>
<text x="218.33" y="385.7" text-anchor="middle" font-family="Liberation Sans, sans-serif" font-size="19.5">1</text>
<text x="292.62" y="385.7" text-anchor="middle" font-family="Liberation Sans, sans-serif" font-size="19.5">10</text>
<text x="366.92" y="385.7" text-anchor="middle" font-family="Liberation Sans, sans-serif" font-size="19.5">100</text>
<text x="441.21" y="385.7" text-anchor="middle" font-family="Liberation Sans, sans-serif" font-size="19.5">1000</text>
<text x="515.5" y="385.7" text-anchor="middle" font-family="Liberation Sans, sans-serif" font-size="19.5">10000</text>
<clipPath id="clipB"><rect x="64.45" y="478.7" width="458.45" height="341.03"/></clipPath>
<g clip-path="url(#clipB)">
<polyline fill="none" stroke="#222" stroke-width="0.55" points="62,793.5 66.24,793.5 70.48,793.5 74.71,793.5 78.95,793.5 83.19,793.5 87.42,793.5 91.66,793.5 95.89,793.5 100.13,793.5 104.37,793.5 108.6,793.5 112.84,793.5 117.07,793.5 121.31,793.5 125.55,793.5 129.78,793.5 134.02,793.5 138.25,793.5 142.49,793.5 146.73,793.5 150.96,793.5 155.2,793.5 159.43,793.5 163.67,793.5 167.91,793.5 172.14,793.5 176.38,793.5 180.62,793.5 184.85,793.5 189.09,793.5 193.32,793.5 197.56,793.5 201.8,793.5 206.03,793.5 210.27,793.5 214.5,793.5 218.74,793.5 222.98,793.5 227.21,793.5 231.45,793.5 235.68,793.5 239.92,793.5 244.16,793.5 248.39,785.89 252.63,779.07 256.86,771.99 261.1,764.64 265.34,757.56 269.57,749.43 273.81,742.08 278.04,736.57 282.28,735.08 286.52,733.95 290.75,732.11 294.99,732.64 299.23,733.95 303.46,734.48 307.7,732.9 311.93,729.23 316.17,724.77 320.41,722.14 324.64,719.26 328.88,712.96 333.11,712.96 337.35,717.69 341.59,727.92 345.82,743.39 350.06,760.18 354.29,777.24 358.53,787.47 362.77,791.4 367,792.71 371.24,792.91 375.47,792.98 379.71,792.58 383.95,791.4 388.18,784.58 392.42,758.35 396.66,715.59 400.89,666.53 405.13,624.29 409.36,590.45 413.6,570.52 417.84,568.68 422.07,584.94 426.31,616.69 430.54,662.6 434.78,689.62 439.02,721.36 443.25,754.67 447.49,785.63 451.72,792.71 455.96,793.5 460.2,793.5 464.43,793.5 468.67,793.5 472.9,793.5 477.14,793.5 481.38,793.5 485.61,793.5"/>
<g fill="#000"><rect x="58.4" y="789.9" width="7.2" height="7.2"/><rect x="62.64" y="789.9" width="7.2" height="7.2"/><rect x="66.88" y="789.9" width="7.2" height="7.2"/><rect x="71.11" y="789.9" width="7.2" height="7.2"/><rect x="75.35" y="789.9" width="7.2" height="7.2"/><rect x="79.59" y="789.9" width="7.2" height="7.2"/><rect x="83.82" y="789.9" width="7.2" height="7.2"/><rect x="88.06" y="789.9" width="7.2" height="7.2"/><rect x="92.29" y="789.9" width="7.2" height="7.2"/><rect x="96.53" y="789.9" width="7.2" height="7.2"/><rect x="100.77" y="789.9" width="7.2" height="7.2"/><rect x="105" y="789.9" width="7.2" height="7.2"/><rect x="109.24" y="789.9" width="7.2" height="7.2"/><rect x="113.47" y="789.9" width="7.2" height="7.2"/><rect x="117.71" y="789.9" width="7.2" height="7.2"/><rect x="121.95" y="789.9" width="7.2" height="7.2"/><rect x="126.18" y="789.9" width="7.2" height="7.2"/><rect x="130.42" y="789.9" width="7.2" height="7.2"/><rect x="134.65" y="789.9" width="7.2" height="7.2"/><rect x="138.89" y="789.9" width="7.2" height="7.2"/><rect x="143.13" y="789.9" width="7.2" height="7.2"/><rect x="147.36" y="789.9" width="7.2" height="7.2"/><rect x="151.6" y="789.9" width="7.2" height="7.2"/><rect x="155.83" y="789.9" width="7.2" height="7.2"/><rect x="160.07" y="789.9" width="7.2" height="7.2"/><rect x="164.31" y="789.9" width="7.2" height="7.2"/><rect x="168.54" y="789.9" width="7.2" height="7.2"/><rect x="172.78" y="789.9" width="7.2" height="7.2"/><rect x="177.02" y="789.9" width="7.2" height="7.2"/><rect x="181.25" y="789.9" width="7.2" height="7.2"/><rect x="185.49" y="789.9" width="7.2" height="7.2"/><rect x="189.72" y="789.9" width="7.2" height="7.2"/><rect x="193.96" y="789.9" width="7.2" height="7.2"/><rect x="198.2" y="789.9" width="7.2" height="7.2"/><rect x="202.43" y="789.9" width="7.2" height="7.2"/><rect x="206.67" y="789.9" width="7.2" height="7.2"/><rect x="210.9" y="789.9" width="7.2" height="7.2"/><rect x="215.14" y="789.9" width="7.2" height="7.2"/><rect x="219.38" y="789.9" width="7.2" height="7.2"/><rect x="223.61" y="789.9" width="7.2" height="7.2"/><rect x="227.85" y="789.9" width="7.2" height="7.2"/><rect x="232.08" y="789.9" width="7.2" height="7.2"/><rect x="236.32" y="789.9" width="7.2" height="7.2"/><rect x="240.56" y="789.9" width="7.2" height="7.2"/><rect x="244.79" y="782.29" width="7.2" height="7.2"/><rect x="249.03" y="775.47" width="7.2" height="7.2"/><rect x="253.26" y="768.39" width="7.2" height="7.2"/><rect x="257.5" y="761.04" width="7.2" height="7.2"/><rect x="261.74" y="753.96" width="7.2" height="7.2"/><rect x="265.97" y="745.83" width="7.2" height="7.2"/><rect x="270.21" y="738.48" width="7.2" height="7.2"/><rect x="274.44" y="732.97" width="7.2" height="7.2"/><rect x="278.68" y="731.48" width="7.2" height="7.2"/><rect x="282.92" y="730.35" width="7.2" height="7.2"/><rect x="287.15" y="728.51" width="7.2" height="7.2"/><rect x="291.39" y="729.04" width="7.2" height="7.2"/><rect x="295.63" y="730.35" width="7.2" height="7.2"/><rect x="299.86" y="730.88" width="7.2" height="7.2"/><rect x="304.1" y="729.3" width="7.2" height="7.2"/><rect x="308.33" y="725.63" width="7.2" height="7.2"/><rect x="312.57" y="721.17" width="7.2" height="7.2"/><rect x="316.81" y="718.54" width="7.2" height="7.2"/><rect x="321.04" y="715.66" width="7.2" height="7.2"/><rect x="325.28" y="709.36" width="7.2" height="7.2"/><rect x="329.51" y="709.36" width="7.2" height="7.2"/><rect x="333.75" y="714.09" width="7.2" height="7.2"/><rect x="337.99" y="724.32" width="7.2" height="7.2"/><rect x="342.22" y="739.79" width="7.2" height="7.2"/><rect x="346.46" y="756.58" width="7.2" height="7.2"/><rect x="350.69" y="773.64" width="7.2" height="7.2"/><rect x="354.93" y="783.87" width="7.2" height="7.2"/><rect x="359.17" y="787.8" width="7.2" height="7.2"/><rect x="363.4" y="789.11" width="7.2" height="7.2"/><rect x="367.64" y="789.31" width="7.2" height="7.2"/><rect x="371.87" y="789.38" width="7.2" height="7.2"/><rect x="376.11" y="788.98" width="7.2" height="7.2"/><rect x="380.35" y="787.8" width="7.2" height="7.2"/><rect x="384.58" y="780.98" width="7.2" height="7.2"/><rect x="388.82" y="754.75" width="7.2" height="7.2"/><rect x="393.06" y="711.99" width="7.2" height="7.2"/><rect x="397.29" y="662.93" width="7.2" height="7.2"/><rect x="401.53" y="620.69" width="7.2" height="7.2"/><rect x="405.76" y="586.85" width="7.2" height="7.2"/><rect x="410" y="566.92" width="7.2" height="7.2"/><rect x="414.24" y="565.08" width="7.2" height="7.2"/><rect x="418.47" y="581.34" width="7.2" height="7.2"/><rect x="422.71" y="613.09" width="7.2" height="7.2"/><rect x="426.94" y="659" width="7.2" height="7.2"/><rect x="431.18" y="686.02" width="7.2" height="7.2"/><rect x="435.42" y="717.76" width="7.2" height="7.2"/><rect x="439.65" y="751.07" width="7.2" height="7.2"/><rect x="443.89" y="782.03" width="7.2" height="7.2"/><rect x="448.12" y="789.11" width="7.2" height="7.2"/><rect x="452.36" y="789.9" width="7.2" height="7.2"/><rect x="456.6" y="789.9" width="7.2" height="7.2"/><rect x="460.83" y="789.9" width="7.2" height="7.2"/><rect x="465.07" y="789.9" width="7.2" height="7.2"/><rect x="469.3" y="789.9" width="7.2" height="7.2"/><rect x="473.54" y="789.9" width="7.2" height="7.2"/><rect x="477.78" y="789.9" width="7.2" height="7.2"/><rect x="482.01" y="789.9" width="7.2" height="7.2"/></g>
<polyline fill="none" stroke="#f22" stroke-width="0.5" points="62,793.5 66.24,793.5 70.48,793.5 74.71,793.5 78.95,793.5 83.19,793.5 87.42,793.5 91.66,793.5 95.89,793.5 100.13,793.5 104.37,793.5 108.6,793.5 112.84,793.5 117.07,793.5 121.31,793.5 125.55,793.5 129.78,793.5 134.02,793.5 138.25,793.5 142.49,793.5 146.73,793.5 150.96,793.5 155.2,793.5 159.43,793.5 163.67,793.5 167.91,793.5 172.14,793.5 176.38,793.5 180.62,793.5 184.85,793.5 189.09,793.5 193.32,793.5 197.56,793.5 201.8,793.5 206.03,793.5 210.27,793.5 214.5,793.5 218.74,793.5 222.98,793.5 227.21,793.5 231.45,793.5 235.68,793.5 239.92,793.5 244.16,792.71 248.39,789.83 252.63,780.65 256.86,770.68 261.1,759.66 265.34,749.43 269.57,738.67 273.81,727.39 278.04,714.8 282.28,701.95 286.52,690.67 290.75,682.27 294.99,677.81 299.23,676.76 303.46,678.34 307.7,681.75 311.93,686.99 316.17,693.81 320.41,703.26 324.64,714.28 328.88,727.92 333.11,742.87 337.35,758.35 341.59,772.51 345.82,783.27 350.06,789.83 354.29,792.98 358.53,793.5 362.77,793.5 367,793.5 371.24,793.5 375.47,793.5 379.71,793.5 383.95,793.5 388.18,792.98 392.42,789.3 396.66,783.27 400.89,773.04 405.13,759.66 409.36,747.59 413.6,735.79 417.84,726.61 422.07,717.95 426.31,711.13 430.54,703.52 434.78,695.65 439.02,689.09 443.25,685.68 447.49,685.68 451.72,688.57 455.96,694.6 460.2,702.21 464.43,711.39 468.67,722.93 472.9,735.26 477.14,748.64 481.38,763.33 485.61,778.28"/>
<g fill="#f00"><circle cx="62" cy="793.5" r="4.15"/><circle cx="66.24" cy="793.5" r="4.15"/><circle cx="70.48" cy="793.5" r="4.15"/><circle cx="74.71" cy="793.5" r="4.15"/><circle cx="78.95" cy="793.5" r="4.15"/><circle cx="83.19" cy="793.5" r="4.15"/><circle cx="87.42" cy="793.5" r="4.15"/><circle cx="91.66" cy="793.5" r="4.15"/><circle cx="95.89" cy="793.5" r="4.15"/><circle cx="100.13" cy="793.5" r="4.15"/><circle cx="104.37" cy="793.5" r="4.15"/><circle cx="108.6" cy="793.5" r="4.15"/><circle cx="112.84" cy="793.5" r="4.15"/><circle cx="117.07" cy="793.5" r="4.15"/><circle cx="121.31" cy="793.5" r="4.15"/><circle cx="125.55" cy="793.5" r="4.15"/><circle cx="129.78" cy="793.5" r="4.15"/><circle cx="134.02" cy="793.5" r="4.15"/><circle cx="138.25" cy="793.5" r="4.15"/><circle cx="142.49" cy="793.5" r="4.15"/><circle cx="146.73" cy="793.5" r="4.15"/><circle cx="150.96" cy="793.5" r="4.15"/><circle cx="155.2" cy="793.5" r="4.15"/><circle cx="159.43" cy="793.5" r="4.15"/><circle cx="163.67" cy="793.5" r="4.15"/><circle cx="167.91" cy="793.5" r="4.15"/><circle cx="172.14" cy="793.5" r="4.15"/><circle cx="176.38" cy="793.5" r="4.15"/><circle cx="180.62" cy="793.5" r="4.15"/><circle cx="184.85" cy="793.5" r="4.15"/><circle cx="189.09" cy="793.5" r="4.15"/><circle cx="193.32" cy="793.5" r="4.15"/><circle cx="197.56" cy="793.5" r="4.15"/><circle cx="201.8" cy="793.5" r="4.15"/><circle cx="206.03" cy="793.5" r="4.15"/><circle cx="210.27" cy="793.5" r="4.15"/><circle cx="214.5" cy="793.5" r="4.15"/><circle cx="218.74" cy="793.5" r="4.15"/><circle cx="222.98" cy="793.5" r="4.15"/><circle cx="227.21" cy="793.5" r="4.15"/><circle cx="231.45" cy="793.5" r="4.15"/><circle cx="235.68" cy="793.5" r="4.15"/><circle cx="239.92" cy="793.5" r="4.15"/><circle cx="244.16" cy="792.71" r="4.15"/><circle cx="248.39" cy="789.83" r="4.15"/><circle cx="252.63" cy="780.65" r="4.15"/><circle cx="256.86" cy="770.68" r="4.15"/><circle cx="261.1" cy="759.66" r="4.15"/><circle cx="265.34" cy="749.43" r="4.15"/><circle cx="269.57" cy="738.67" r="4.15"/><circle cx="273.81" cy="727.39" r="4.15"/><circle cx="278.04" cy="714.8" r="4.15"/><circle cx="282.28" cy="701.95" r="4.15"/><circle cx="286.52" cy="690.67" r="4.15"/><circle cx="290.75" cy="682.27" r="4.15"/><circle cx="294.99" cy="677.81" r="4.15"/><circle cx="299.23" cy="676.76" r="4.15"/><circle cx="303.46" cy="678.34" r="4.15"/><circle cx="307.7" cy="681.75" r="4.15"/><circle cx="311.93" cy="686.99" r="4.15"/><circle cx="316.17" cy="693.81" r="4.15"/><circle cx="320.41" cy="703.26" r="4.15"/><circle cx="324.64" cy="714.28" r="4.15"/><circle cx="328.88" cy="727.92" r="4.15"/><circle cx="333.11" cy="742.87" r="4.15"/><circle cx="337.35" cy="758.35" r="4.15"/><circle cx="341.59" cy="772.51" r="4.15"/><circle cx="345.82" cy="783.27" r="4.15"/><circle cx="350.06" cy="789.83" r="4.15"/><circle cx="354.29" cy="792.98" r="4.15"/><circle cx="358.53" cy="793.5" r="4.15"/><circle cx="362.77" cy="793.5" r="4.15"/><circle cx="367" cy="793.5" r="4.15"/><circle cx="371.24" cy="793.5" r="4.15"/><circle cx="375.47" cy="793.5" r="4.15"/><circle cx="379.71" cy="793.5" r="4.15"/><circle cx="383.95" cy="793.5" r="4.15"/><circle cx="388.18" cy="792.98" r="4.15"/><circle cx="392.42" cy="789.3" r="4.15"/><circle cx="396.66" cy="783.27" r="4.15"/><circle cx="400.89" cy="773.04" r="4.15"/><circle cx="405.13" cy="759.66" r="4.15"/><circle cx="409.36" cy="747.59" r="4.15"/><circle cx="413.6" cy="735.79" r="4.15"/><circle cx="417.84" cy="726.61" r="4.15"/><circle cx="422.07" cy="717.95" r="4.15"/><circle cx="426.31" cy="711.13" r="4.15"/><circle cx="430.54" cy="703.52" r="4.15"/><circle cx="434.78" cy="695.65" r="4.15"/><circle cx="439.02" cy="689.09" r="4.15"/><circle cx="443.25" cy="685.68" r="4.15"/><circle cx="447.49" cy="685.68" r="4.15"/><circle cx="451.72" cy="688.57" r="4.15"/><circle cx="455.96" cy="694.6" r="4.15"/><circle cx="460.2" cy="702.21" r="4.15"/><circle cx="464.43" cy="711.39" r="4.15"/><circle cx="468.67" cy="722.93" r="4.15"/><circle cx="472.9" cy="735.26" r="4.15"/><circle cx="477.14" cy="748.64" r="4.15"/><circle cx="481.38" cy="763.33" r="4.15"/><circle cx="485.61" cy="778.28" r="4.15"/></g>
</g>
<rect x="64.45" y="478.7" width="458.45" height="341.03" fill="none" stroke="#1e1e1e" stroke-width="1.2"/>
<path d="M64.45 819.73h-4.2M64.45 793.5h-7.2M64.45 767.27h-4.2M64.45 741.03h-7.2M64.45 714.8h-4.2M64.45 688.57h-7.2M64.45 662.33h-4.2M64.45 636.1h-7.2M64.45 609.87h-4.2M64.45 583.63h-7.2M64.45 557.4h-4.2M64.45 531.17h-7.2M64.45 504.93h-4.2M64.45 478.7h-7.2M64.45 819.73v6.9M87.45 819.73v3.7M100.91 819.73v3.7M110.45 819.73v3.7M117.86 819.73v3.7M123.91 819.73v3.7M129.02 819.73v3.7M133.45 819.73v3.7M137.36 819.73v3.7M140.86 819.73v6.9M163.86 819.73v3.7M177.31 819.73v3.7M186.86 819.73v3.7M194.27 819.73v3.7M200.32 819.73v3.7M205.43 819.73v3.7M209.86 819.73v3.7M213.77 819.73v3.7M217.27 819.73v6.9M240.27 819.73v3.7M253.72 819.73v3.7M263.27 819.73v3.7M270.67 819.73v3.7M276.72 819.73v3.7M281.84 819.73v3.7M286.27 819.73v3.7M290.18 819.73v3.7M293.68 819.73v6.9M316.68 819.73v3.7M330.13 819.73v3.7M339.68 819.73v3.7M347.08 819.73v3.7M353.13 819.73v3.7M358.25 819.73v3.7M362.68 819.73v3.7M366.59 819.73v3.7M370.08 819.73v6.9M393.08 819.73v3.7M406.54 819.73v3.7M416.09 819.73v3.7M423.49 819.73v3.7M429.54 819.73v3.7M434.66 819.73v3.7M439.09 819.73v3.7M443 819.73v3.7M446.49 819.73v6.9M469.49 819.73v3.7M482.95 819.73v3.7M492.49 819.73v3.7M499.9 819.73v3.7M505.95 819.73v3.7M511.06 819.73v3.7M515.5 819.73v3.7M519.4 819.73v3.7M522.9 819.73v6.9" stroke="#1e1e1e" stroke-width="1.2" fill="none"/>
<text x="53.65" y="798.7" text-anchor="end" font-family="Liberation Sans, sans-serif" font-size="20">0</text>
<text x="53.65" y="746.23" text-anchor="end" font-family="Liberation Sans, sans-serif" font-size="20">2</text>
<text x="53.65" y="693.77" text-anchor="end" font-family="Liberation Sans, sans-serif" font-size="20">4</text>
<text x="53.65" y="641.3" text-anchor="end" font-family="Liberation Sans, sans-serif" font-size="20">6</text>
<text x="53.65" y="588.83" text-anchor="end" font-family="Liberation Sans, sans-serif" font-size="20">8</text>
<text x="53.65" y="536.37" text-anchor="end" font-family="Liberation Sans, sans-serif" font-size="20">10</text>
<text x="53.65" y="483.9" text-anchor="end" font-family="Liberation Sans, sans-serif" font-size="20">12</text>
<text x="64.45" y="846.5" text-anchor="middle" font-family="Liberation Sans, sans-serif" font-size="20">0.01</text>
<text x="140.86" y="846.5" text-anchor="middle" font-family="Liberation Sans, sans-serif" font-size="20">0.1</text>
<text x="217.27" y="846.5" text-anchor="middle" font-family="Liberation Sans, sans-serif" font-size="20">1</text>
<text x="293.68" y="846.5" text-anchor="middle" font-family="Liberation Sans, sans-serif" font-size="20">10</text>
<text x="370.08" y="846.5" text-anchor="middle" font-family="Liberation Sans, sans-serif" font-size="20">100</text>
<text x="446.49" y="846.5" text-anchor="middle" font-family="Liberation Sans, sans-serif" font-size="20">1000</text>
<text x="522.9" y="846.5" text-anchor="middle" font-family="Liberation Sans, sans-serif" font-size="20">10000</text>
<clipPath id="clipC"><rect x="63" y="955" width="459.3" height="340.6"/></clipPath>
<g clip-path="url(#clipC)">
<polyline fill="none" stroke="#222" stroke-width="0.55" points="60.55,1269.4 64.79,1269.4 69.04,1269.4 73.28,1269.4 77.53,1269.4 81.77,1269.4 86.01,1269.39 90.26,1269.39 94.5,1269.38 98.75,1269.38 102.99,1269.37 107.23,1269.36 111.48,1269.35 115.72,1269.34 119.97,1269.32 124.21,1269.3 128.45,1269.28 132.7,1269.26 136.94,1269.23 141.19,1269.21 145.43,1269.17 149.67,1269.14 153.92,1269.1 158.16,1269.06 162.4,1269.02 166.65,1268.97 170.89,1268.92 175.14,1268.86 179.38,1268.8 183.62,1268.74 187.87,1268.67 192.11,1268.59 196.36,1268.51 200.6,1268.43 204.84,1268.34 209.09,1268.25 213.33,1268.15 217.58,1268.05 221.82,1267.94 226.06,1267.82 230.31,1267.7 234.55,1267.57 238.8,1267.44 243.04,1263.11 247.28,1262.27 251.53,1261.54 255.77,1259.44 260.02,1256.3 264.26,1253.16 268.5,1250.8 272.75,1249.23 276.99,1248.18 281.23,1247.39 285.48,1246.87 289.72,1246.61 293.97,1246.08 298.21,1245.82 302.45,1244.51 306.7,1242.94 310.94,1241.63 315.19,1240.84 319.43,1241.05 323.67,1241.63 327.92,1244.51 332.16,1248.96 336.41,1255.51 340.65,1260.75 344.89,1264.42 349.14,1267.3 353.38,1268.88 357.63,1268.88 361.87,1268.88 366.11,1268.88 370.36,1268.88 374.6,1268.88 378.85,1268.88 383.09,1268.88 387.33,1267.83 391.58,1265.21 395.82,1250.01 400.06,1221.98 404.31,1185.82 408.55,1148.09 412.8,1117.96 417.04,1097 421.28,1085.21 425.53,1079.45 429.77,1077.88 434.02,1079.45 438.26,1083.9 442.5,1091.76 446.75,1101.46 450.99,1112.46 455.24,1125.56 459.48,1140.76 463.72,1156.74 467.97,1173.77 472.21,1192.11 476.46,1210.71 480.7,1230.1 484.94,1249.23"/>
<g fill="#000"><rect x="56.95" y="1265.8" width="7.2" height="7.2"/><rect x="61.19" y="1265.8" width="7.2" height="7.2"/><rect x="65.44" y="1265.8" width="7.2" height="7.2"/><rect x="69.68" y="1265.8" width="7.2" height="7.2"/><rect x="73.93" y="1265.8" width="7.2" height="7.2"/><rect x="78.17" y="1265.8" width="7.2" height="7.2"/><rect x="82.41" y="1265.79" width="7.2" height="7.2"/><rect x="86.66" y="1265.79" width="7.2" height="7.2"/><rect x="90.9" y="1265.78" width="7.2" height="7.2"/><rect x="95.15" y="1265.78" width="7.2" height="7.2"/><rect x="99.39" y="1265.77" width="7.2" height="7.2"/><rect x="103.63" y="1265.76" width="7.2" height="7.2"/><rect x="107.88" y="1265.75" width="7.2" height="7.2"/><rect x="112.12" y="1265.74" width="7.2" height="7.2"/><rect x="116.37" y="1265.72" width="7.2" height="7.2"/><rect x="120.61" y="1265.7" width="7.2" height="7.2"/><rect x="124.85" y="1265.68" width="7.2" height="7.2"/><rect x="129.1" y="1265.66" width="7.2" height="7.2"/><rect x="133.34" y="1265.63" width="7.2" height="7.2"/><rect x="137.59" y="1265.61" width="7.2" height="7.2"/><rect x="141.83" y="1265.57" width="7.2" height="7.2"/><rect x="146.07" y="1265.54" width="7.2" height="7.2"/><rect x="150.32" y="1265.5" width="7.2" height="7.2"/><rect x="154.56" y="1265.46" width="7.2" height="7.2"/><rect x="158.8" y="1265.42" width="7.2" height="7.2"/><rect x="163.05" y="1265.37" width="7.2" height="7.2"/><rect x="167.29" y="1265.32" width="7.2" height="7.2"/><rect x="171.54" y="1265.26" width="7.2" height="7.2"/><rect x="175.78" y="1265.2" width="7.2" height="7.2"/><rect x="180.02" y="1265.14" width="7.2" height="7.2"/><rect x="184.27" y="1265.07" width="7.2" height="7.2"/><rect x="188.51" y="1264.99" width="7.2" height="7.2"/><rect x="192.76" y="1264.91" width="7.2" height="7.2"/><rect x="197" y="1264.83" width="7.2" height="7.2"/><rect x="201.24" y="1264.74" width="7.2" height="7.2"/><rect x="205.49" y="1264.65" width="7.2" height="7.2"/><rect x="209.73" y="1264.55" width="7.2" height="7.2"/><rect x="213.98" y="1264.45" width="7.2" height="7.2"/><rect x="218.22" y="1264.34" width="7.2" height="7.2"/><rect x="222.46" y="1264.22" width="7.2" height="7.2"/><rect x="226.71" y="1264.1" width="7.2" height="7.2"/><rect x="230.95" y="1263.97" width="7.2" height="7.2"/><rect x="235.2" y="1263.84" width="7.2" height="7.2"/><rect x="239.44" y="1259.51" width="7.2" height="7.2"/><rect x="243.68" y="1258.67" width="7.2" height="7.2"/><rect x="247.93" y="1257.94" width="7.2" height="7.2"/><rect x="252.17" y="1255.84" width="7.2" height="7.2"/><rect x="256.42" y="1252.7" width="7.2" height="7.2"/><rect x="260.66" y="1249.56" width="7.2" height="7.2"/><rect x="264.9" y="1247.2" width="7.2" height="7.2"/><rect x="269.15" y="1245.63" width="7.2" height="7.2"/><rect x="273.39" y="1244.58" width="7.2" height="7.2"/><rect x="277.63" y="1243.79" width="7.2" height="7.2"/><rect x="281.88" y="1243.27" width="7.2" height="7.2"/><rect x="286.12" y="1243.01" width="7.2" height="7.2"/><rect x="290.37" y="1242.48" width="7.2" height="7.2"/><rect x="294.61" y="1242.22" width="7.2" height="7.2"/><rect x="298.85" y="1240.91" width="7.2" height="7.2"/><rect x="303.1" y="1239.34" width="7.2" height="7.2"/><rect x="307.34" y="1238.03" width="7.2" height="7.2"/><rect x="311.59" y="1237.24" width="7.2" height="7.2"/><rect x="315.83" y="1237.45" width="7.2" height="7.2"/><rect x="320.07" y="1238.03" width="7.2" height="7.2"/><rect x="324.32" y="1240.91" width="7.2" height="7.2"/><rect x="328.56" y="1245.36" width="7.2" height="7.2"/><rect x="332.81" y="1251.91" width="7.2" height="7.2"/><rect x="337.05" y="1257.15" width="7.2" height="7.2"/><rect x="341.29" y="1260.82" width="7.2" height="7.2"/><rect x="345.54" y="1263.7" width="7.2" height="7.2"/><rect x="349.78" y="1265.28" width="7.2" height="7.2"/><rect x="354.03" y="1265.28" width="7.2" height="7.2"/><rect x="358.27" y="1265.28" width="7.2" height="7.2"/><rect x="362.51" y="1265.28" width="7.2" height="7.2"/><rect x="366.76" y="1265.28" width="7.2" height="7.2"/><rect x="371" y="1265.28" width="7.2" height="7.2"/><rect x="375.25" y="1265.28" width="7.2" height="7.2"/><rect x="379.49" y="1265.28" width="7.2" height="7.2"/><rect x="383.73" y="1264.23" width="7.2" height="7.2"/><rect x="387.98" y="1261.61" width="7.2" height="7.2"/><rect x="392.22" y="1246.41" width="7.2" height="7.2"/><rect x="396.46" y="1218.38" width="7.2" height="7.2"/><rect x="400.71" y="1182.22" width="7.2" height="7.2"/><rect x="404.95" y="1144.49" width="7.2" height="7.2"/><rect x="409.2" y="1114.36" width="7.2" height="7.2"/><rect x="413.44" y="1093.4" width="7.2" height="7.2"/><rect x="417.68" y="1081.61" width="7.2" height="7.2"/><rect x="421.93" y="1075.85" width="7.2" height="7.2"/><rect x="426.17" y="1074.28" width="7.2" height="7.2"/><rect x="430.42" y="1075.85" width="7.2" height="7.2"/><rect x="434.66" y="1080.3" width="7.2" height="7.2"/><rect x="438.9" y="1088.16" width="7.2" height="7.2"/><rect x="443.15" y="1097.86" width="7.2" height="7.2"/><rect x="447.39" y="1108.86" width="7.2" height="7.2"/><rect x="451.64" y="1121.96" width="7.2" height="7.2"/><rect x="455.88" y="1137.16" width="7.2" height="7.2"/><rect x="460.12" y="1153.14" width="7.2" height="7.2"/><rect x="464.37" y="1170.17" width="7.2" height="7.2"/><rect x="468.61" y="1188.51" width="7.2" height="7.2"/><rect x="472.86" y="1207.11" width="7.2" height="7.2"/><rect x="477.1" y="1226.5" width="7.2" height="7.2"/><rect x="481.34" y="1245.63" width="7.2" height="7.2"/></g>
<polyline fill="none" stroke="#f22" stroke-width="0.5" points="60.55,1269.4 64.79,1269.4 69.04,1269.4 73.28,1269.4 77.53,1269.4 81.77,1269.4 86.01,1269.4 90.26,1269.4 94.5,1269.4 98.75,1269.4 102.99,1269.39 107.23,1269.39 111.48,1269.39 115.72,1269.39 119.97,1269.38 124.21,1269.38 128.45,1269.38 132.7,1269.37 136.94,1269.37 141.19,1269.36 145.43,1269.35 149.67,1269.35 153.92,1269.34 158.16,1269.33 162.4,1269.32 166.65,1269.31 170.89,1269.3 175.14,1269.29 179.38,1269.28 183.62,1269.27 187.87,1269.25 192.11,1269.24 196.36,1269.22 200.6,1269.2 204.84,1269.19 209.09,1269.17 213.33,1269.15 217.58,1269.13 221.82,1269.11 226.06,1269.08 230.31,1269.06 234.55,1269.03 238.8,1269.01 243.04,1267.93 247.28,1265.21 251.53,1257.09 255.77,1245.3 260.02,1233.51 264.26,1221.98 268.5,1209.14 272.75,1194.21 276.99,1175.34 281.23,1154.91 285.48,1136.3 289.72,1122.68 293.97,1115.87 298.21,1114.3 302.45,1118.75 306.7,1129.23 310.94,1143.38 315.19,1162.5 319.43,1184.25 323.67,1208.35 327.92,1231.67 332.16,1250.8 336.41,1263.37 340.65,1268.88 344.89,1269.4 349.14,1269.4 353.38,1269.4 357.63,1269.4 361.87,1269.4 366.11,1269.4 370.36,1269.4 374.6,1269.4 378.85,1269.4 383.09,1269.4 387.33,1268.09 391.58,1259.18 395.82,1236.91 400.06,1205.47 404.31,1174.29 408.55,1150.71 412.8,1139.97 417.04,1139.97 421.28,1148.09 425.53,1159.1 429.77,1170.89 434.02,1182.15 438.26,1193.94 442.5,1205.21 446.75,1215.95 450.99,1225.12 455.24,1233.77 459.48,1241.37 463.72,1247.39 467.97,1252.89 472.21,1257.35 476.46,1261.28 480.7,1263.9 484.94,1266.78"/>
<g fill="#f00"><circle cx="60.55" cy="1269.4" r="4.15"/><circle cx="64.79" cy="1269.4" r="4.15"/><circle cx="69.04" cy="1269.4" r="4.15"/><circle cx="73.28" cy="1269.4" r="4.15"/><circle cx="77.53" cy="1269.4" r="4.15"/><circle cx="81.77" cy="1269.4" r="4.15"/><circle cx="86.01" cy="1269.4" r="4.15"/><circle cx="90.26" cy="1269.4" r="4.15"/><circle cx="94.5" cy="1269.4" r="4.15"/><circle cx="98.75" cy="1269.4" r="4.15"/><circle cx="102.99" cy="1269.39" r="4.15"/><circle cx="107.23" cy="1269.39" r="4.15"/><circle cx="111.48" cy="1269.39" r="4.15"/><circle cx="115.72" cy="1269.39" r="4.15"/><circle cx="119.97" cy="1269.38" r="4.15"/><circle cx="124.21" cy="1269.38" r="4.15"/><circle cx="128.45" cy="1269.38" r="4.15"/><circle cx="132.7" cy="1269.37" r="4.15"/><circle cx="136.94" cy="1269.37" r="4.15"/><circle cx="141.19" cy="1269.36" r="4.15"/><circle cx="145.43" cy="1269.35" r="4.15"/><circle cx="149.67" cy="1269.35" r="4.15"/><circle cx="153.92" cy="1269.34" r="4.15"/><circle cx="158.16" cy="1269.33" r="4.15"/><circle cx="162.4" cy="1269.32" r="4.15"/><circle cx="166.65" cy="1269.31" r="4.15"/><circle cx="170.89" cy="1269.3" r="4.15"/><circle cx="175.14" cy="1269.29" r="4.15"/><circle cx="179.38" cy="1269.28" r="4.15"/><circle cx="183.62" cy="1269.27" r="4.15"/><circle cx="187.87" cy="1269.25" r="4.15"/><circle cx="192.11" cy="1269.24" r="4.15"/><circle cx="196.36" cy="1269.22" r="4.15"/><circle cx="200.6" cy="1269.2" r="4.15"/><circle cx="204.84" cy="1269.19" r="4.15"/><circle cx="209.09" cy="1269.17" r="4.15"/><circle cx="213.33" cy="1269.15" r="4.15"/><circle cx="217.58" cy="1269.13" r="4.15"/><circle cx="221.82" cy="1269.11" r="4.15"/><circle cx="226.06" cy="1269.08" r="4.15"/><circle cx="230.31" cy="1269.06" r="4.15"/><circle cx="234.55" cy="1269.03" r="4.15"/><circle cx="238.8" cy="1269.01" r="4.15"/><circle cx="243.04" cy="1267.93" r="4.15"/><circle cx="247.28" cy="1265.21" r="4.15"/><circle cx="251.53" cy="1257.09" r="4.15"/><circle cx="255.77" cy="1245.3" r="4.15"/><circle cx="260.02" cy="1233.51" r="4.15"/><circle cx="264.26" cy="1221.98" r="4.15"/><circle cx="268.5" cy="1209.14" r="4.15"/><circle cx="272.75" cy="1194.21" r="4.15"/><circle cx="276.99" cy="1175.34" r="4.15"/><circle cx="281.23" cy="1154.91" r="4.15"/><circle cx="285.48" cy="1136.3" r="4.15"/><circle cx="289.72" cy="1122.68" r="4.15"/><circle cx="293.97" cy="1115.87" r="4.15"/><circle cx="298.21" cy="1114.3" r="4.15"/><circle cx="302.45" cy="1118.75" r="4.15"/><circle cx="306.7" cy="1129.23" r="4.15"/><circle cx="310.94" cy="1143.38" r="4.15"/><circle cx="315.19" cy="1162.5" r="4.15"/><circle cx="319.43" cy="1184.25" r="4.15"/><circle cx="323.67" cy="1208.35" r="4.15"/><circle cx="327.92" cy="1231.67" r="4.15"/><circle cx="332.16" cy="1250.8" r="4.15"/><circle cx="336.41" cy="1263.37" r="4.15"/><circle cx="340.65" cy="1268.88" r="4.15"/><circle cx="344.89" cy="1269.4" r="4.15"/><circle cx="349.14" cy="1269.4" r="4.15"/><circle cx="353.38" cy="1269.4" r="4.15"/><circle cx="357.63" cy="1269.4" r="4.15"/><circle cx="361.87" cy="1269.4" r="4.15"/><circle cx="366.11" cy="1269.4" r="4.15"/><circle cx="370.36" cy="1269.4" r="4.15"/><circle cx="374.6" cy="1269.4" r="4.15"/><circle cx="378.85" cy="1269.4" r="4.15"/><circle cx="383.09" cy="1269.4" r="4.15"/><circle cx="387.33" cy="1268.09" r="4.15"/><circle cx="391.58" cy="1259.18" r="4.15"/><circle cx="395.82" cy="1236.91" r="4.15"/><circle cx="400.06" cy="1205.47" r="4.15"/><circle cx="404.31" cy="1174.29" r="4.15"/><circle cx="408.55" cy="1150.71" r="4.15"/><circle cx="412.8" cy="1139.97" r="4.15"/><circle cx="417.04" cy="1139.97" r="4.15"/><circle cx="421.28" cy="1148.09" r="4.15"/><circle cx="425.53" cy="1159.1" r="4.15"/><circle cx="429.77" cy="1170.89" r="4.15"/><circle cx="434.02" cy="1182.15" r="4.15"/><circle cx="438.26" cy="1193.94" r="4.15"/><circle cx="442.5" cy="1205.21" r="4.15"/><circle cx="446.75" cy="1215.95" r="4.15"/><circle cx="450.99" cy="1225.12" r="4.15"/><circle cx="455.24" cy="1233.77" r="4.15"/><circle cx="459.48" cy="1241.37" r="4.15"/><circle cx="463.72" cy="1247.39" r="4.15"/><circle cx="467.97" cy="1252.89" r="4.15"/><circle cx="472.21" cy="1257.35" r="4.15"/><circle cx="476.46" cy="1261.28" r="4.15"/><circle cx="480.7" cy="1263.9" r="4.15"/><circle cx="484.94" cy="1266.78" r="4.15"/></g>
</g>
<rect x="63" y="955" width="459.3" height="340.6" fill="none" stroke="#1e1e1e" stroke-width="1.2"/>
<path d="M63 1295.6h-4.2M63 1269.4h-7.2M63 1243.2h-4.2M63 1217h-7.2M63 1190.8h-4.2M63 1164.6h-7.2M63 1138.4h-4.2M63 1112.2h-7.2M63 1086h-4.2M63 1059.8h-7.2M63 1033.6h-4.2M63 1007.4h-7.2M63 981.2h-4.2M63 955h-7.2M63 1295.6v6.9M86.04 1295.6v3.7M99.52 1295.6v3.7M109.09 1295.6v3.7M116.51 1295.6v3.7M122.57 1295.6v3.7M127.69 1295.6v3.7M132.13 1295.6v3.7M136.05 1295.6v3.7M139.55 1295.6v6.9M162.59 1295.6v3.7M176.07 1295.6v3.7M185.64 1295.6v3.7M193.06 1295.6v3.7M199.12 1295.6v3.7M204.24 1295.6v3.7M208.68 1295.6v3.7M212.6 1295.6v3.7M216.1 1295.6v6.9M239.14 1295.6v3.7M252.62 1295.6v3.7M262.19 1295.6v3.7M269.61 1295.6v3.7M275.67 1295.6v3.7M280.79 1295.6v3.7M285.23 1295.6v3.7M289.15 1295.6v3.7M292.65 1295.6v6.9M315.69 1295.6v3.7M329.17 1295.6v3.7M338.74 1295.6v3.7M346.16 1295.6v3.7M352.22 1295.6v3.7M357.34 1295.6v3.7M361.78 1295.6v3.7M365.7 1295.6v3.7M369.2 1295.6v6.9M392.24 1295.6v3.7M405.72 1295.6v3.7M415.29 1295.6v3.7M422.71 1295.6v3.7M428.77 1295.6v3.7M433.89 1295.6v3.7M438.33 1295.6v3.7M442.25 1295.6v3.7M445.75 1295.6v6.9M468.79 1295.6v3.7M482.27 1295.6v3.7M491.84 1295.6v3.7M499.26 1295.6v3.7M505.32 1295.6v3.7M510.44 1295.6v3.7M514.88 1295.6v3.7M518.8 1295.6v3.7M522.3 1295.6v6.9" stroke="#1e1e1e" stroke-width="1.2" fill="none"/>
<text x="50.8" y="1274.8" text-anchor="end" font-family="Liberation Sans, sans-serif" font-size="20">0</text>
<text x="50.8" y="1222.4" text-anchor="end" font-family="Liberation Sans, sans-serif" font-size="20">2</text>
<text x="50.8" y="1170" text-anchor="end" font-family="Liberation Sans, sans-serif" font-size="20">4</text>
<text x="50.8" y="1117.6" text-anchor="end" font-family="Liberation Sans, sans-serif" font-size="20">6</text>
<text x="50.8" y="1065.2" text-anchor="end" font-family="Liberation Sans, sans-serif" font-size="20">8</text>
<text x="50.8" y="1012.8" text-anchor="end" font-family="Liberation Sans, sans-serif" font-size="20">10</text>
<text x="50.8" y="960.4" text-anchor="end" font-family="Liberation Sans, sans-serif" font-size="20">12</text>
<text x="63" y="1322.7" text-anchor="middle" font-family="Liberation Sans, sans-serif" font-size="20">0.01</text>
<text x="139.55" y="1322.7" text-anchor="middle" font-family="Liberation Sans, sans-serif" font-size="20">0.1</text>
<text x="216.1" y="1322.7" text-anchor="middle" font-family="Liberation Sans, sans-serif" font-size="20">1</text>
<text x="292.65" y="1322.7" text-anchor="middle" font-family="Liberation Sans, sans-serif" font-size="20">10</text>
<text x="369.2" y="1322.7" text-anchor="middle" font-family="Liberation Sans, sans-serif" font-size="20">100</text>
<text x="445.75" y="1322.7" text-anchor="middle" font-family="Liberation Sans, sans-serif" font-size="20">1000</text>
<text x="522.3" y="1322.7" text-anchor="middle" font-family="Liberation Sans, sans-serif" font-size="20">10000</text>
<path d="M310.2 71.0H354.7" stroke="#000" stroke-width="0.6"/>
<rect x="329.30" y="67.70" width="6.6" height="6.6" fill="#000"/>
<path d="M310.2 96.1H354.7" stroke="#f00" stroke-width="0.6"/>
<circle cx="332.6" cy="96.1" r="3.9" fill="#f00"/>
<path d="M280.8 507.9H326.6" stroke="#000" stroke-width="0.6"/>
<rect x="300.20" y="504.40" width="7.0" height="7.0" fill="#000"/>
<path d="M280.8 533.2H326.6" stroke="#f00" stroke-width="0.6"/>
<circle cx="303.7" cy="533.2" r="4.1" fill="#f00"/>
<path d="M293.4 991.0H339.5" stroke="#000" stroke-width="0.6"/>
<rect x="313.10" y="987.50" width="7.0" height="7.0" fill="#000"/>
<path d="M293.4 1016.5H339.5" stroke="#f00" stroke-width="0.6"/>
<circle cx="316.6" cy="1016.5" r="4.0" fill="#f00"/>
<text transform="translate(19.50 15.00) scale(0.9312 1)" font-family="Liberation Serif, serif" font-weight="bold" font-size="22">A</text>
<text transform="translate(8.80 464.50) scale(0.9643 1)" font-family="Liberation Serif, serif" font-weight="bold" font-size="22">B</text>
<text transform="translate(2.95 945.50) scale(1.1538 1)" font-family="Liberation Serif, serif" font-weight="bold" font-size="22">C</text>
<text transform="translate(101.05 62.60) scale(1.0525 1)" font-family="Liberation Serif, serif" font-weight="normal" font-size="19.5">Mixture</text>
<text transform="translate(182.08 62.60) scale(1.0230 1)" font-family="Liberation Serif, serif" font-weight="normal" font-size="19.5">Extrudate</text>
<text transform="translate(211.39 132.60) scale(1.0146 1)" font-family="Liberation Serif, serif" font-weight="normal" font-size="19">0 day</text>
<text transform="translate(210.06 258.80) scale(1.0360 1)" font-family="Liberation Serif, serif" font-weight="normal" font-size="19">20 day</text>
<text transform="translate(75.02 520.60) scale(1.0803 1)" font-family="Liberation Serif, serif" font-weight="normal" font-size="19.5">Mixture</text>
<text transform="translate(157.94 520.60) scale(1.0608 1)" font-family="Liberation Serif, serif" font-weight="normal" font-size="19.5">Extrudate</text>
<text transform="translate(205.42 576.60) scale(1.0780 1)" font-family="Liberation Serif, serif" font-weight="normal" font-size="19">0 day</text>
<text transform="translate(201.81 714.20) scale(1.0900 1)" font-family="Liberation Serif, serif" font-weight="normal" font-size="19">20 day</text>
<text transform="translate(79.43 983.70) scale(1.0721 1)" font-family="Liberation Serif, serif" font-weight="normal" font-size="19.5">Mixture</text>
<text transform="translate(162.24 983.70) scale(1.0608 1)" font-family="Liberation Serif, serif" font-weight="normal" font-size="19.5">Extrudate</text>
<text transform="translate(205.53 1063.50) scale(1.0659 1)" font-family="Liberation Serif, serif" font-weight="normal" font-size="19">0 day</text>
<text transform="translate(204.62 1187.40) scale(1.0820 1)" font-family="Liberation Serif, serif" font-weight="normal" font-size="19">20 day</text>
<text transform="translate(359.81 77.70) scale(1.0432 1)" font-family="Liberation Sans, sans-serif" font-weight="normal" font-size="19.5">P:L mixture</text>
<text transform="translate(359.84 101.70) scale(1.0292 1)" font-family="Liberation Sans, sans-serif" font-weight="normal" font-size="19.5">P:L extrudate</text>
<text transform="translate(331.94 514.10) scale(1.0300 1)" font-family="Liberation Sans, sans-serif" font-weight="normal" font-size="20">P:L:G mixture</text>
<text transform="translate(331.93 539.50) scale(1.0372 1)" font-family="Liberation Sans, sans-serif" font-weight="normal" font-size="20">P:L:G extrudate</text>
<text transform="translate(344.82 998.00) scale(1.0409 1)" font-family="Liberation Sans, sans-serif" font-weight="normal" font-size="20">P:L:G:A mixture</text>
<text transform="translate(344.83 1023.40) scale(1.0368 1)" font-family="Liberation Sans, sans-serif" font-weight="normal" font-size="20">P:L:G:A extrudate</text>
<text transform="translate(252.09 418.20) scale(1.0104 1)" font-family="Liberation Serif, serif" font-weight="normal" font-size="20">Size (μm)</text>
<text transform="translate(251.89 879.30) scale(1.0089 1)" font-family="Liberation Serif, serif" font-weight="normal" font-size="20.5">Size (μm)</text>
<text transform="translate(250.78 1356.50) scale(1.0165 1)" font-family="Liberation Serif, serif" font-weight="normal" font-size="20.5">Size (μm)</text>
<text transform="translate(23.10 258.50) rotate(-90) scale(1.0176 1)" font-family="Liberation Sans, sans-serif" font-size="20">Volume (%)</text>
<text transform="translate(15.50 716.60) rotate(-90) scale(1.0229 1)" font-family="Liberation Sans, sans-serif" font-size="20.5">Volume (%)</text>
<text transform="translate(15.40 1192.60) rotate(-90) scale(1.0229 1)" font-family="Liberation Sans, sans-serif" font-size="20.5">Volume (%)</text>
</svg>
</body></html>
